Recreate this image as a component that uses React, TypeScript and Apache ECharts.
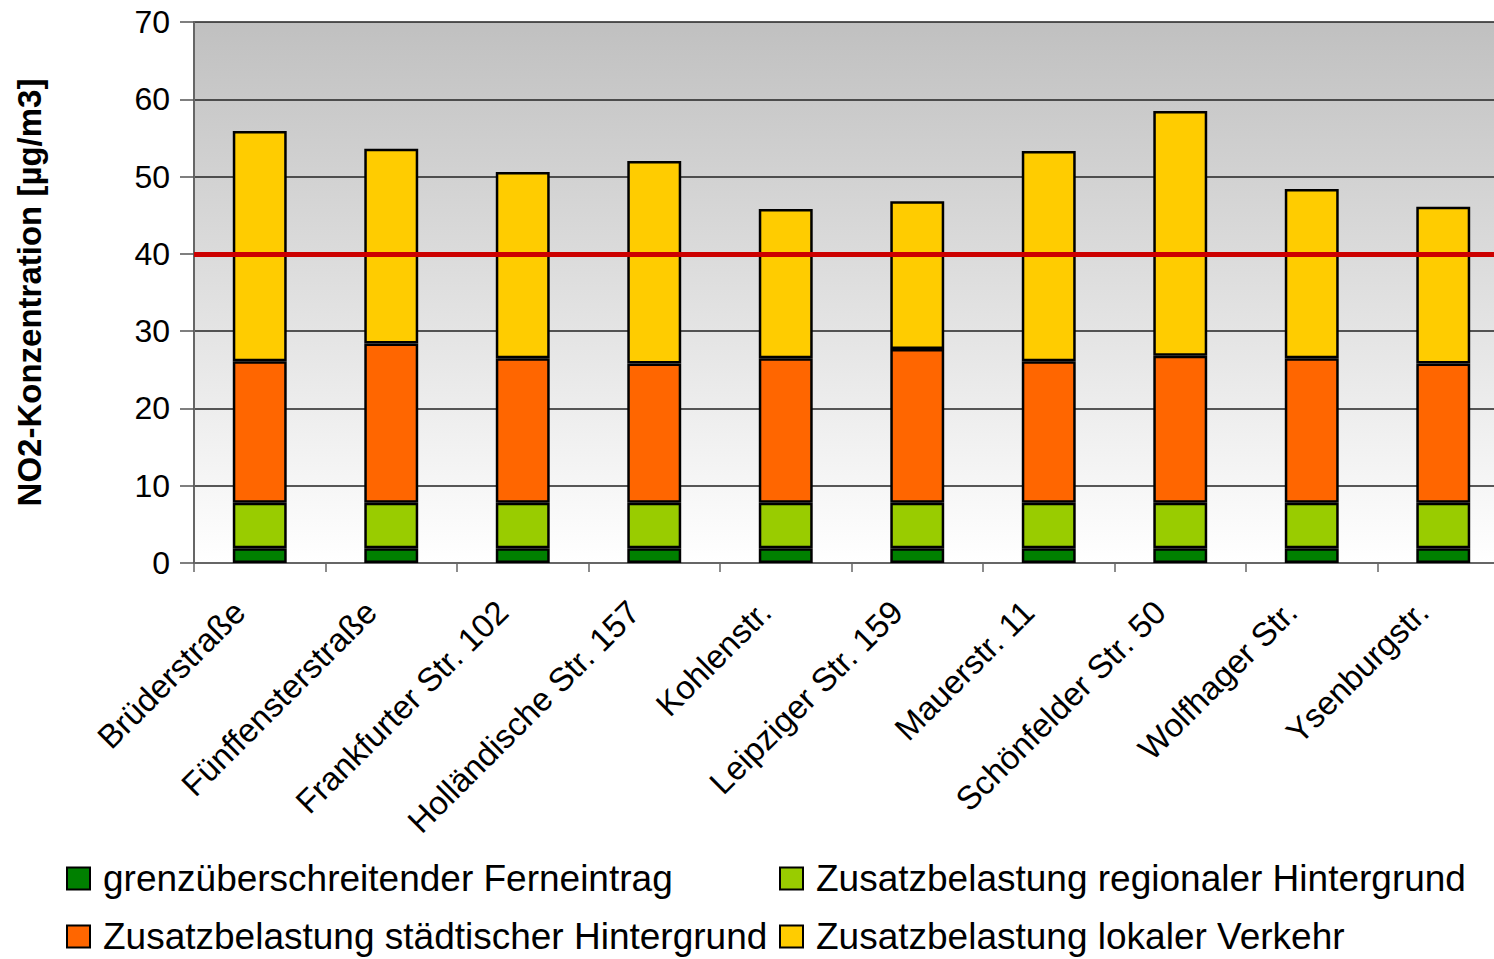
import React, { useEffect, useRef } from "react";
import * as echarts from "echarts";

const categories = [
  "Brüderstraße",
  "Fünffensterstraße",
  "Frankfurter Str. 102",
  "Holländische Str. 157",
  "Kohlenstr.",
  "Leipziger Str. 159",
  "Mauerstr. 11",
  "Schönfelder Str. 50",
  "Wolfhager Str.",
  "Ysenburgstr.",
];

const seriesNames = [
  "grenzüberschreitender Ferneintrag",
  "Zusatzbelastung regionaler Hintergrund",
  "Zusatzbelastung städtischer Hintergrund",
  "Zusatzbelastung lokaler Verkehr",
];

const ferneintrag = [1.9, 1.9, 1.9, 1.9, 1.9, 1.9, 1.9, 1.9, 1.9, 1.9];
const regional = [5.9, 5.9, 5.9, 5.9, 5.9, 5.9, 5.9, 5.9, 5.9, 5.9];
const staedtisch = [18.3, 20.6, 18.7, 18.0, 18.7, 19.9, 18.3, 19.0, 18.7, 18.0];
const verkehr = [29.8, 25.2, 24.1, 26.2, 19.3, 19.1, 27.2, 31.7, 21.9, 20.3];

const grenzwert = 40;
const yTicks = { min: 0, max: 70, interval: 10 };

const colors = ["#008000", "#99cc00", "#ff6600", "#ffcc00"];
const FONT = "'Liberation Sans', Arial, sans-serif";

export default function App() {
  const ref = useRef<HTMLDivElement>(null);

  useEffect(() => {
    if (!ref.current) return;
    const chart = echarts.init(ref.current, undefined, { renderer: "svg" });
    const values = [ferneintrag, regional, staedtisch, verkehr];

    const legendPos = [
      { left: 66, top: 860 },
      { left: 779, top: 860 },
      { left: 66, top: 918 },
      { left: 779, top: 918 },
    ];

    chart.setOption({
      animation: false,
      backgroundColor: "#ffffff",
      textStyle: { fontFamily: FONT },
      grid: {
        left: 194,
        right: -15,
        top: 22,
        bottom: 959 - 563,
        show: true,
        borderWidth: 0,
        outerBoundsMode: "none",
        containLabel: false,
        backgroundColor: new echarts.graphic.LinearGradient(0, 0, 0, 1, [
          { offset: 0, color: "#c0c0c0" },
          { offset: 1, color: "#ffffff" },
        ]),
      },
      legend: seriesNames.map((n, i) => ({
        data: [n],
        left: legendPos[i].left,
        top: legendPos[i].top,
        padding: 0,
        itemWidth: 23,
        itemHeight: 22,
        itemGap: 10,
        icon: "rect",
        selectedMode: false,
        itemStyle: { borderColor: "#000", borderWidth: 2 },
        textStyle: { fontSize: 37, color: "#000", fontFamily: FONT, padding: [0, 0, 0, 8] },
      })),
      xAxis: {
        type: "category",
        data: categories,
        axisLine: { show: true, lineStyle: { color: "#666", width: 2 } },
        axisTick: { show: true, length: 9, lineStyle: { color: "#666", width: 1.5 } },
        axisLabel: {
          interval: 0,
          rotate: 45,
          fontSize: 33,
          color: "#000",
          margin: 23,
          padding: [0, 29, 0, 0],
          fontFamily: FONT,
        },
      },
      yAxis: {
        type: "value",
        min: yTicks.min,
        max: yTicks.max,
        interval: yTicks.interval,
        name: "NO2-Konzentration [µg/m3]",
        nameLocation: "middle",
        nameGap: 148,
        nameTextStyle: { fontSize: 33, fontWeight: "bold", color: "#000", fontFamily: FONT },
        axisLine: { show: true, lineStyle: { color: "#666", width: 2 } },
        axisTick: { show: true, length: 14, lineStyle: { color: "#555", width: 1.5 } },
        axisLabel: { fontSize: 32, color: "#000", margin: 24, fontFamily: FONT },
        splitLine: { show: true, lineStyle: { color: "#222", width: 1.5 } },
      },
      series: seriesNames.map((n, i) => ({
        name: n,
        type: "bar",
        stack: "total",
        barWidth: "41%",
        data: values[i],
        itemStyle: { color: colors[i], borderColor: "#000", borderWidth: 2.5 },
        ...(i === 3
          ? {
              markLine: {
                silent: true,
                symbol: ["none", "none"],
                label: { show: false },
                lineStyle: { color: "#cc0000", width: 5, type: "solid" },
                data: [{ yAxis: grenzwert }],
              },
            }
          : {}),
      })),
    });

    return () => chart.dispose();
  }, []);

  return (
    <div
      ref={ref}
      style={{ position: "fixed", left: 0, top: 0, width: 1494, height: 959 }}
    />
  );
}
